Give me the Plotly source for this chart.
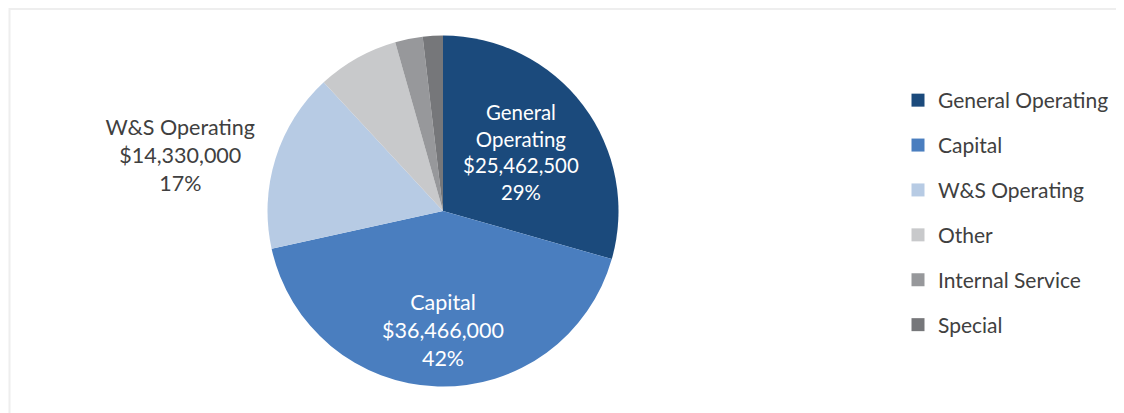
import plotly.graph_objects as go

categories = ["General Operating", "Capital", "W&S Operating", "Other", "Internal Service", "Special"]
values = [25462500, 36466000, 14330000, 6500000, 2200000, 1600000]
percent_labels = ["29%", "42%", "17%", "", "", ""]
colors = ["#1b4a7c", "#4a7ebf", "#b7cbe4", "#c8c9cb", "#97989b", "#76777a"]

label_lines = {
    "General Operating": "General<br>Operating",
    "Capital": "\u00a0<br>\u00a0<br>Capital",
    "W&S Operating": "W&S Operating",
}

texts = []
positions = []
for c, v, p in zip(categories, values, percent_labels):
    if p:
        texts.append(f"{label_lines[c]}<br>${v:,.0f}<br>{p}")
        positions.append("outside" if c == "W&S Operating" else "inside")
    else:
        texts.append("")
        positions.append("none")

font_family = "Lato, 'Open Sans', sans-serif"
W, H = 1116, 405
cx, cy, r = 435, 203, 175.5

fig = go.Figure()
fig.add_trace(go.Pie(
    labels=categories,
    values=values,
    text=texts,
    textinfo="text",
    textposition=positions,
    insidetextorientation="horizontal",
    sort=False,
    direction="clockwise",
    rotation=0,
    marker=dict(colors=colors, line=dict(width=0)),
    insidetextfont=dict(family=font_family, size=21.5, color="white"),
    outsidetextfont=dict(family=font_family, size=21.5, color="#404040"),
    showlegend=False,
    domain=dict(x=[(cx - r) / W, (cx + r) / W], y=[(H - cy - r) / H, (H - cy + r) / H]),
    hoverinfo="label+value+percent",
))

for c, col in zip(categories, colors):
    fig.add_trace(go.Scatter(
        x=[None], y=[None], mode="markers", name=c,
        marker=dict(symbol="square", size=13, color=col),
        legendgroup=c, showlegend=True,
    ))

fig.update_layout(
    width=W, height=H,
    margin=dict(l=0, r=0, t=0, b=0),
    paper_bgcolor="white",
    plot_bgcolor="white",
    xaxis=dict(visible=False),
    yaxis=dict(visible=False),
    legend=dict(
        x=890 / W, xanchor="left", y=1 - 72 / H, yanchor="top",
        font=dict(family=font_family, size=21, color="#404040"),
        tracegroupgap=14.6,
        itemsizing="trace",
        bgcolor="rgba(0,0,0,0)",
    ),
    shapes=[dict(type="rect", xref="paper", yref="paper",
                 x0=1.5 / W, x1=1.01, y0=-0.01, y1=1 - 1 / H,
                 line=dict(color="#eeeeee", width=2))],
)

fig.write_html("out.html")
